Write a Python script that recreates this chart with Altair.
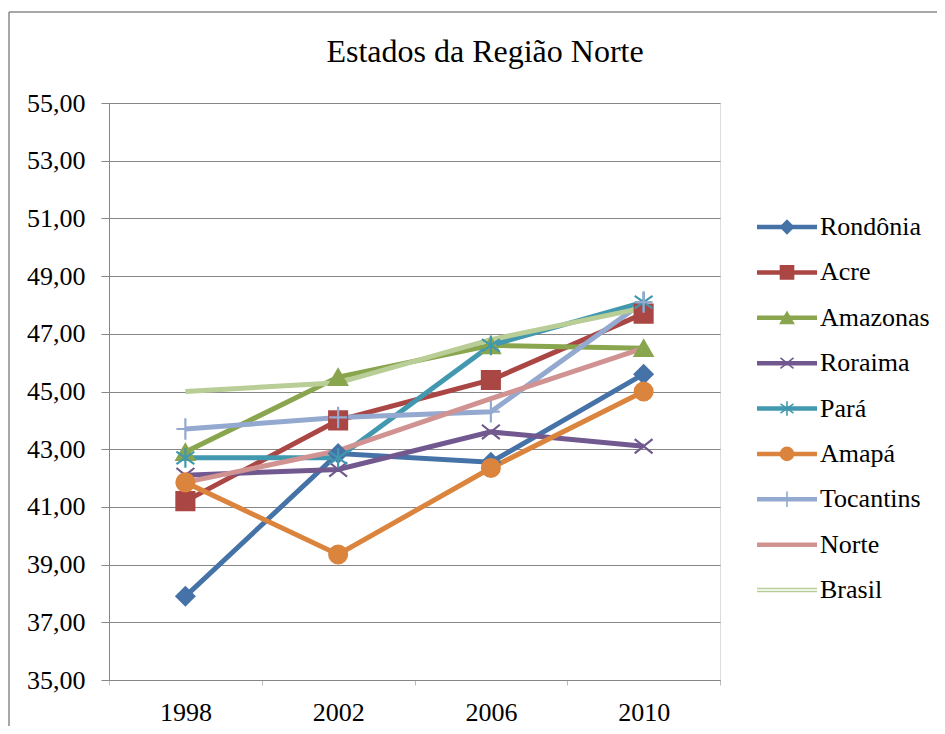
import altair as alt
import pandas as pd

# ---------------- data ----------------
anos = ["1998", "2002", "2006", "2010"]
series = ["Rondônia", "Acre", "Amazonas", "Roraima", "Pará", "Amapá",
          "Tocantins", "Norte", "Brasil"]

rondonia = [37.90, 42.85, 42.55, 45.60]
acre = [41.20, 44.00, 45.40, 47.70]
amazonas = [42.90, 45.50, 46.60, 46.50]
roraima = [42.10, 42.30, 43.60, 43.10]
para = [42.70, 42.70, 46.60, 48.10]
amapa = [41.85, 39.35, 42.35, 45.00]
tocantins = [43.70, 44.10, 44.30, 48.10]
norte = [41.85, 42.95, 44.75, 46.50]
brasil = [45.00, 45.30, 46.80, 47.90]

y_ticks = [35, 37, 39, 41, 43, 45, 47, 49, 51, 53, 55]
titulo = "Estados da Região Norte"

valores = [rondonia, acre, amazonas, roraima, para, amapa, tocantins, norte, brasil]

# ---------------- styles ----------------
cores = ["#4572A7", "#AA4643", "#89A54E", "#71588F", "#4198AF", "#DB843D",
         "#93A9CF", "#D19392", "#B9CD96"]
marker_series = ["Rondônia", "Acre", "Amazonas", "Roraima", "Pará", "Amapá", "Tocantins"]
marker_shapes = [
    "diamond",
    "square",
    "triangle-up",
    "M-1,-0.8L1,0.8M-1,0.8L1,-0.8",
    "M-1,-0.7L1,0.7M-1,0.7L1,-0.7M0,-1.1L0,1.1",
    "circle",
    "M0,-1.2L0,1.2M-1,0L1,0",
]
FONT = "'Liberation Serif', 'Times New Roman', serif"

rows = []
for s, vals in zip(series, valores):
    for a, v in zip(anos, vals):
        rows.append({"serie": s, "ano": a, "valor": v})
df = pd.DataFrame(rows)

color_enc = alt.Color("serie:N", scale=alt.Scale(domain=series, range=cores), legend=None)
stroke_enc = alt.Stroke("serie:N", scale=alt.Scale(domain=series, range=cores), legend=None)
shape_scale = alt.Scale(domain=marker_series, range=marker_shapes)

x_enc = alt.X(
    "ano:O",
    scale=alt.Scale(type="band", domain=anos, paddingInner=0, paddingOuter=0),
    bandPosition=0.5,
    axis=alt.Axis(title=None, labelAngle=0, tickBand="extent", grid=False,
                  domainColor="#868686", tickColor="#BBBBBB", tickSize=5,
                  labelFontSize=26, labelFont=FONT, labelColor="black",
                  labelPadding=14),
)
y_enc = alt.Y(
    "valor:Q",
    scale=alt.Scale(domain=[35, 55], nice=False, zero=False),
    axis=alt.Axis(title=None, values=y_ticks,
                  labelExpr="replace(format(datum.value, '.2f'), '.', ',')",
                  grid=True, gridColor="#868686", gridWidth=1.2,
                  domainColor="#868686", tickColor="#868686", tickSize=8,
                  labelFontSize=26, labelFont=FONT, labelColor="black",
                  labelPadding=16),
)

base = alt.Chart(df)
lines = base.mark_line(strokeWidth=5).encode(x=x_enc, y=y_enc, color=color_enc,
                                             order=alt.Order("ano:O"))
points = base.transform_filter(
    alt.FieldOneOfPredicate(field="serie", oneOf=marker_series)
).mark_point(filled=True, size=320, strokeWidth=2.2, opacity=1).encode(
    x=x_enc, y=y_enc, color=color_enc, stroke=stroke_enc,
    shape=alt.Shape("serie:N", scale=shape_scale, legend=None),
)

frame_df = pd.DataFrame({"titulo": [titulo]})
frame_top = alt.Chart(frame_df).mark_rule(color="#8A8A8A", strokeWidth=1.5).encode(
    x=alt.value(-100), x2=alt.value(840), y=alt.value(-91))
frame_left = alt.Chart(frame_df).mark_rule(color="#8A8A8A", strokeWidth=1.5).encode(
    x=alt.value(-100), y=alt.value(-91), y2=alt.value(640))
title_mark = alt.Chart(frame_df).mark_text(
    fontSize=32, font=FONT, color="black", align="center", baseline="alphabetic"
).encode(x=alt.value(376), y=alt.value(-41), text="titulo:N")

main = alt.layer(lines, points, frame_top, frame_left, title_mark)

# ---------------- legend ----------------
leg_df = pd.DataFrame({"serie": series})
leg_y = alt.Y("serie:N", scale=alt.Scale(type="point", domain=series, range=[124, 487],
                                        padding=0), axis=None)
leg_base = alt.Chart(leg_df)
leg_rule = leg_base.mark_rule(strokeWidth=4.5).encode(
    x=alt.value(648), x2=alt.value(708), y=leg_y, color=color_enc)
leg_inner = leg_base.transform_filter(alt.datum.serie == "Brasil").mark_rule(
    strokeWidth=1.3, color="white").encode(x=alt.value(648), x2=alt.value(708), y=leg_y)
leg_pts = leg_base.transform_filter(
    alt.FieldOneOfPredicate(field="serie", oneOf=marker_series)
).mark_point(filled=True, size=170, strokeWidth=1.6, opacity=1).encode(
    x=alt.value(678), y=leg_y, color=color_enc, stroke=stroke_enc,
    shape=alt.Shape("serie:N", scale=shape_scale, legend=None),
)
leg_txt = leg_base.mark_text(align="left", baseline="middle", fontSize=26, font=FONT,
                             color="black").encode(x=alt.value(711), y=leg_y, text="serie:N")
legend = alt.layer(leg_rule, leg_inner, leg_pts, leg_txt)

chart = alt.layer(main, legend).resolve_scale(y="independent").properties(
    width=611,
    height=577,
    autosize=alt.AutoSizeParams(type="none"),
    padding={"left": 101, "top": 95, "right": 217, "bottom": 46},
).configure_view(stroke=None).configure(background="white", font=FONT)

chart.save("out.html", embed_options={"renderer": "svg", "actions": False})
